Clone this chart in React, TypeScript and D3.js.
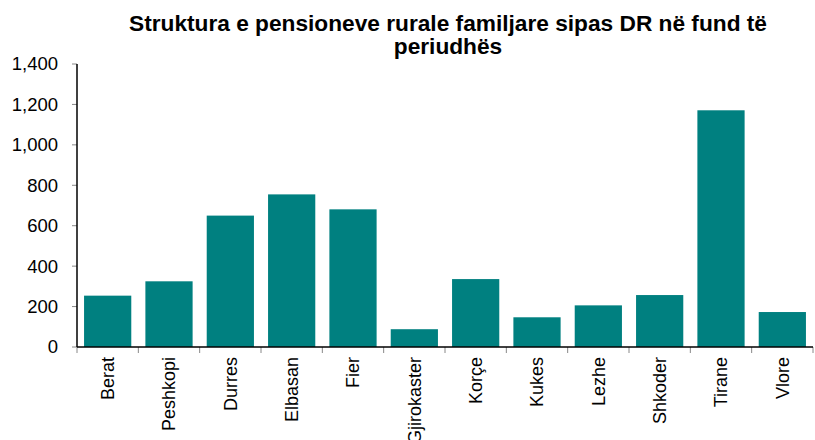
import React from "react";
import * as d3 from "d3";

const categories = ["Berat", "Peshkopi", "Durres", "Elbasan", "Fier", "Gjirokaster", "Korçe", "Kukes", "Lezhe", "Shkoder", "Tirane", "Vlore"];
const values = [254, 325, 650, 755, 681, 88, 336, 147, 206, 257, 1171, 173];
const yTicks = [0, 200, 400, 600, 800, 1000, 1200, 1400];
const titleLines = ["Struktura e pensioneve rurale familjare sipas DR në fund të", "periudhës"];

const W = 815;
const H = 440;
const left = 77;
const right = 813;
const top = 64;
const bottom = 347;

export default function App() {
  const x = d3.scaleBand<string>().domain(categories).range([left, right]).paddingInner(0.23).paddingOuter(0.115);
  const y = d3.scaleLinear().domain([0, 1400]).range([bottom, top]);
  const fmt = d3.format(",");
  const step = (right - left) / categories.length;
  const font = "Arial, 'Liberation Sans', sans-serif";
  return (
    <svg width={W} height={H} style={{ position: "absolute", left: 0, top: 0, background: "#fff" }} fontFamily={font}>
      {titleLines.map((t, i) => (
        <text key={i} x={448} y={31 + i * 23} textAnchor="middle" fontWeight="bold" fontSize={22.7} fill="#000">
          {t}
        </text>
      ))}
      {values.map((v, i) => (
        <rect key={i} x={x(categories[i])} y={y(v)} width={x.bandwidth()} height={y(0) - y(v)} fill="#008080" />
      ))}
      {yTicks.map((t) => (
        <g key={t}>
          <line x1={left - 5} x2={left} y1={y(t)} y2={y(t)} stroke="#888" strokeWidth={1} />
          <text x={58} y={y(t)} dy="0.35em" textAnchor="end" fontSize={18.5} fill="#000">
            {fmt(t)}
          </text>
        </g>
      ))}
      {d3.range(categories.length + 1).map((i) => (
        <line key={i} x1={left + i * step} x2={left + i * step} y1={bottom} y2={bottom + 6} stroke="#888" strokeWidth={1} />
      ))}
      <line x1={left} x2={left} y1={top} y2={bottom} stroke="#000" strokeWidth={1.5} />
      <line x1={left} x2={right} y1={bottom} y2={bottom} stroke="#000" strokeWidth={1.5} />
      {categories.map((c) => {
        const cx = (x(c) as number) + x.bandwidth() / 2;
        return (
          <text key={c} transform={`translate(${cx},357) rotate(-90)`} dy="0.35em" textAnchor="end" fontSize={18} fill="#000">
            {c}
          </text>
        );
      })}
    </svg>
  );
}
